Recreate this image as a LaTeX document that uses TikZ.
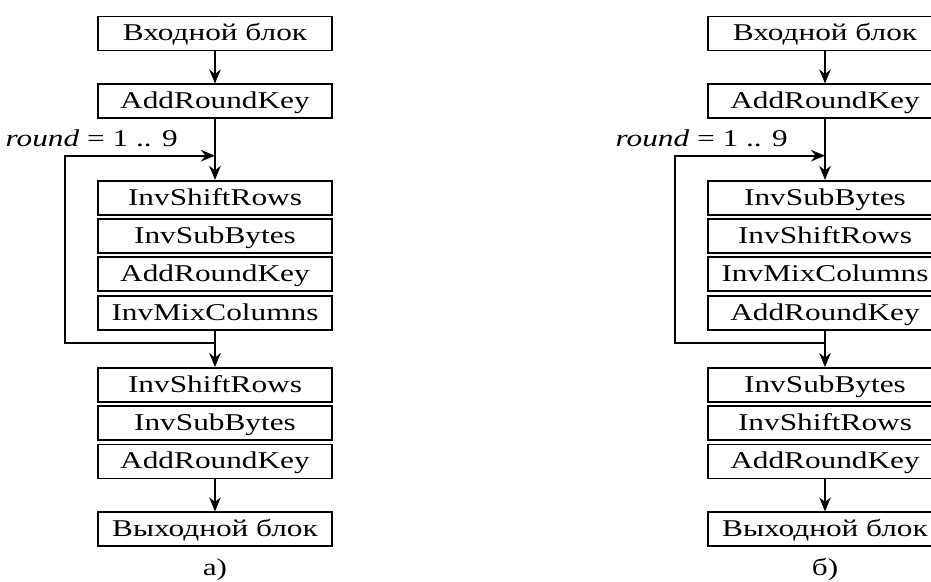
\documentclass[tikz,border=0pt]{standalone}
\usepackage{fontspec}
\setmainfont{Liberation Serif}[FakeStretch=1.3]
\usetikzlibrary{positioning}
\usetikzlibrary{arrows.meta}
\usetikzlibrary{calc}

\begin{document}
\begin{tikzpicture}[every node/.style={font=\fontsize{13.7}{16}\selectfont},
    blk/.style={draw, line width=1.1pt, minimum width=4.68cm, minimum height=0.68cm,
        inner sep=0pt, text height=11pt, text depth=2.5pt},
    captxt/.style={anchor=base, inner sep=0pt},
    arr/.style={-{Stealth[length=2.8mm,width=2.3mm]}, line width=1.1pt}]

        \useasboundingbox (0,0) rectangle (18.62,-11.62);
        \clip (0,0) rectangle (18.62,-11.62);

        % Left: scheme a)
        \node[blk] (in1) at (4.3,-0.67) {Входной блок};
        \node[blk, below=0.64cm of in1] (ark1) {AddRoundKey};
        \node[blk, below=1.21cm of ark1] (isr1) {InvShiftRows};
        \node[blk, below=0.046cm of isr1] (isb1) {InvSubBytes};
        \node[blk, below=0.046cm of isb1] (ark2) {AddRoundKey};
        \node[blk, below=0.046cm of ark2] (imc1) {InvMixColumns};
        \node[blk, below=0.73cm of imc1] (isr2) {InvShiftRows};
        \node[blk, below=0.046cm of isr2] (isb2) {InvSubBytes};
        \node[blk, below=0.046cm of isb2] (ark3) {AddRoundKey};
        \node[blk, below=0.64cm of ark3] (out1) {Выходной блок};

        \draw[arr] (in1) -- (ark1);
        \draw[arr] (ark1) -- (isr1);
        \draw[arr] (imc1) -- (isr2);
        \draw[arr] (ark3) -- (out1);

        % Loop over rounds
        \coordinate (lt1) at ($(ark1.south)!0.6!(isr1.north)$);
        \coordinate (lb1) at ($(imc1.south)!0.35!(isr2.north)$);
        \coordinate (xl1) at ($(isr1.west)+(-0.65,0)$);
        \draw[arr] (lb1) -- (lb1 -| xl1) |- (lt1);
        \node[anchor=base east] (rnd1) at ($(lt1)+(-0.62,0.18)$) {\textit{round} = 1 .. 9};

        \node[captxt] (capa) at (4.3,-11.5) {а)};

        % Right: scheme b)
        \node[blk] (in2) at (16.5,-0.67) {Входной блок};
        \node[blk, below=0.64cm of in2] (ark4) {AddRoundKey};
        \node[blk, below=1.21cm of ark4] (isb3) {InvSubBytes};
        \node[blk, below=0.046cm of isb3] (isr3) {InvShiftRows};
        \node[blk, below=0.046cm of isr3] (imc2) {InvMixColumns};
        \node[blk, below=0.046cm of imc2] (ark5) {AddRoundKey};
        \node[blk, below=0.73cm of ark5] (isb4) {InvSubBytes};
        \node[blk, below=0.046cm of isb4] (isr4) {InvShiftRows};
        \node[blk, below=0.046cm of isr4] (ark6) {AddRoundKey};
        \node[blk, below=0.64cm of ark6] (out2) {Выходной блок};

        \draw[arr] (in2) -- (ark4);
        \draw[arr] (ark4) -- (isb3);
        \draw[arr] (ark5) -- (isb4);
        \draw[arr] (ark6) -- (out2);

        % Loop over rounds
        \coordinate (lt2) at ($(ark4.south)!0.6!(isb3.north)$);
        \coordinate (lb2) at ($(ark5.south)!0.35!(isb4.north)$);
        \coordinate (xl2) at ($(isb3.west)+(-0.65,0)$);
        \draw[arr] (lb2) -- (lb2 -| xl2) |- (lt2);
        \node[anchor=base east] (rnd2) at ($(lt2)+(-0.62,0.18)$) {\textit{round} = 1 .. 9};

        \node[captxt] (capb) at (16.5,-11.5) {б)};

    \end{tikzpicture}
\end{document}
